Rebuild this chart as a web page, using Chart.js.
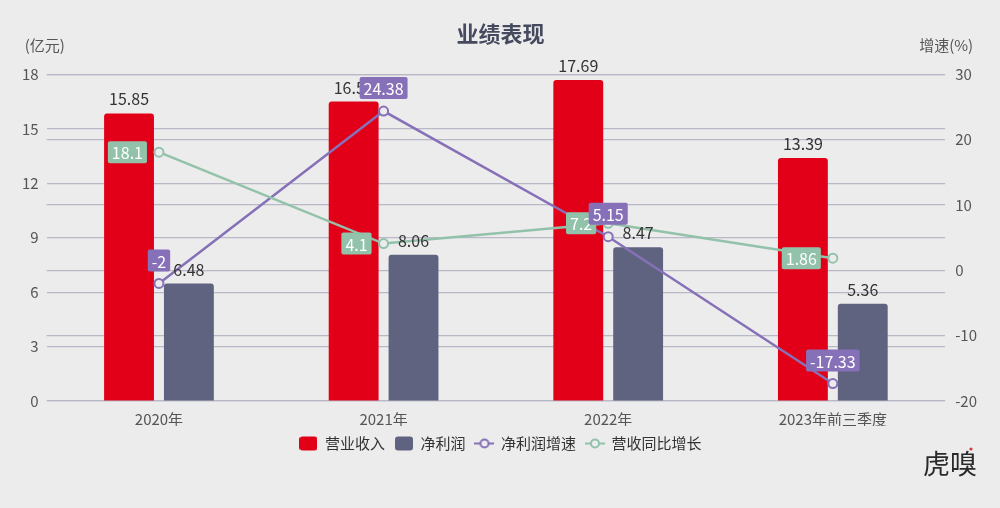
<!DOCTYPE html>
<html>
<head>
<meta charset="utf-8">
<script src="https://cdn.jsdelivr.net/npm/chart.js@4.4.1/dist/chart.umd.min.js"></script>
<style>
  html, body { margin: 0; padding: 0; background: #ececec; }
  #wrap { width: 1000px; height: 508px; }
</style>
</head>
<body>
<div id="wrap"><canvas id="chart1"></canvas></div>
<script>
const categories = ['2020年', '2021年', '2022年', '2023年前三季度']
const revenue = [15.85, 16.51, 17.69, 13.39]        // 营业收入 (亿元)
const netProfit = [6.48, 8.06, 8.47, 5.36]          // 净利润 (亿元)
const profitGrowth = [-2, 24.38, 5.15, -17.33]      // 净利润增速 (%)
const revenueGrowth = [18.1, 4.1, 7.2, 1.86]        // 营收同比增长 (%)

const FONT = '"Noto Sans CJK SC", "Noto Sans", sans-serif'
const RED = '#e10018'
const SLATE = '#5f6380'
const PURPLE = '#8670b8'
const GREEN = '#92c2aa'
const BG = '#ececec'

// small canvases used as legend markers
function boxIcon(color) {
    const c = document.createElement('canvas')
    c.width = 18; c.height = 15
    const g = c.getContext('2d')
    g.fillStyle = color
    g.beginPath()
    g.roundRect(0, 0.5, 18, 14, 3)
    g.fill()
    return c
}
function lineIcon(color) {
    const c = document.createElement('canvas')
    c.width = 20; c.height = 15
    const g = c.getContext('2d')
    g.strokeStyle = color
    g.lineWidth = 2
    g.beginPath(); g.moveTo(0, 7.5); g.lineTo(20, 7.5); g.stroke()
    g.fillStyle = BG
    g.beginPath(); g.arc(10, 7.5, 4, 0, Math.PI * 2); g.fill(); g.stroke()
    return c
}

const extras = {
    id: 'extras',
    beforeDraw(chart) {
        const ctx = chart.ctx
        ctx.save()
        ctx.fillStyle = BG
        ctx.fillRect(0, 0, chart.width, chart.height)
        ctx.restore()
    },
    afterDatasetsDraw(chart) {
        const ctx = chart.ctx
        const area = chart.chartArea
        ctx.save()
        ctx.font = '15px ' + FONT
        ctx.fillStyle = '#555'
        ctx.textBaseline = 'middle'
        ctx.textAlign = 'left'
        ctx.fillText('(亿元)', area.left - 22, area.top - 29)
        ctx.textAlign = 'right'
        ctx.fillText('增速(%)', area.right + 28, area.top - 29)

        // bar value labels
        ctx.font = '16px ' + FONT
        ctx.fillStyle = '#333'
        ctx.textAlign = 'center'
        ctx.textBaseline = 'bottom';
        [0, 1].forEach(di => {
            chart.getDatasetMeta(di).data.forEach((bar, i) => {
                ctx.fillText(chart.data.datasets[di].data[i].toFixed(2), bar.x, bar.y - 6)
            })
        })

        // boxed line labels
        function tag(text, color, cx, cy) {
            ctx.font = '16px ' + FONT
            const w = ctx.measureText(text).width + 8
            const h = 22
            ctx.fillStyle = color
            ctx.beginPath()
            ctx.roundRect(cx - w / 2, cy - h / 2, w, h, 2)
            ctx.fill()
            ctx.fillStyle = '#fff'
            ctx.textAlign = 'center'
            ctx.textBaseline = 'middle'
            ctx.fillText(text, cx, cy + 1)
        }
        chart.getDatasetMeta(3).data.forEach((pt, i) => {
            ctx.font = '16px ' + FONT
            const w = ctx.measureText(String(revenueGrowth[i])).width + 8
            tag(String(revenueGrowth[i]), GREEN, pt.x - 12 - w / 2, pt.y)
        })
        chart.getDatasetMeta(2).data.forEach((pt, i) => {
            tag(String(profitGrowth[i]), PURPLE, pt.x, pt.y - 23)
        })

        // watermark
        ctx.font = '27px ' + FONT
        ctx.fillStyle = '#2a2a2a'
        ctx.textAlign = 'right'
        ctx.textBaseline = 'middle'
        ctx.fillText('虎嗅', 977, 464)
        ctx.fillStyle = '#d23a3a'
        ctx.beginPath(); ctx.arc(971, 449, 1.6, 0, Math.PI * 2); ctx.fill()
        ctx.restore()
    }
}

const legendItems = [
    { text: '营业收入', icon: boxIcon(RED) },
    { text: '净利润', icon: boxIcon(SLATE) },
    { text: '净利润增速', icon: lineIcon(PURPLE) },
    { text: '营收同比增长', icon: lineIcon(GREEN) }
]

let chart = new Chart('chart1', {
    data: {
        labels: categories,
        datasets: [
            {
                type: 'bar', label: '营业收入', data: revenue, yAxisID: 'y',
                backgroundColor: RED, borderRadius: 3, borderSkipped: 'bottom',
                categoryPercentage: 0.533, barPercentage: 0.833, order: 2
            },
            {
                type: 'bar', label: '净利润', data: netProfit, yAxisID: 'y',
                backgroundColor: SLATE, borderRadius: 3, borderSkipped: 'bottom',
                categoryPercentage: 0.533, barPercentage: 0.833, order: 3
            },
            {
                type: 'line', label: '净利润增速', data: profitGrowth, yAxisID: 'y1',
                borderColor: PURPLE, borderWidth: 2.5, pointRadius: 4.5, pointBorderWidth: 2,
                pointBackgroundColor: BG, pointBorderColor: PURPLE, order: 1
            },
            {
                type: 'line', label: '营收同比增长', data: revenueGrowth, yAxisID: 'y1',
                borderColor: GREEN, borderWidth: 2.5, pointRadius: 4.5, pointBorderWidth: 2,
                pointBackgroundColor: BG, pointBorderColor: GREEN, order: 0
            }
        ]
    },
    options: {
        responsive: true,
        maintainAspectRatio: false,
        animation: false,
        layout: { padding: { left: 14, right: 13, top: 0, bottom: 47 } },
        scales: {
            x: {
                grid: { display: false, drawTicks: false },
                border: { display: false },
                ticks: { color: '#555', font: { size: 15, family: FONT }, padding: 9 },
                afterFit(scale) { scale.height = 25 }
            },
            y: {
                position: 'left', min: 0, max: 18,
                ticks: { stepSize: 3, color: '#555', font: { size: 15, family: FONT }, padding: 8 },
                grid: { color: '#b8b8c6', lineWidth: 1.2, drawTicks: false },
                border: { display: false }
            },
            y1: {
                position: 'right', min: -20, max: 30,
                ticks: { stepSize: 10, color: '#555', font: { size: 15, family: FONT }, padding: 10 },
                grid: { color: '#b8b8c6', lineWidth: 1.2, drawTicks: false },
                border: { display: false }
            }
        },
        plugins: {
            title: {
                display: true, text: '业绩表现', color: '#454a5e',
                font: { size: 22, weight: 'bold', family: FONT },
                padding: { top: 20, bottom: 28 }
            },
            legend: {
                position: 'bottom',
                labels: {
                    usePointStyle: true, pointStyleWidth: 18, boxHeight: 15,
                    color: '#333', font: { size: 15, family: FONT }, padding: 10,
                    generateLabels: () => legendItems.map((it, i) => ({
                        text: it.text, pointStyle: it.icon, fontColor: '#333',
                        datasetIndex: i, hidden: false, lineWidth: 0
                    }))
                }
            },
            tooltip: { enabled: false }
        }
    },
    plugins: [extras]
})
</script>
</body>
</html>
